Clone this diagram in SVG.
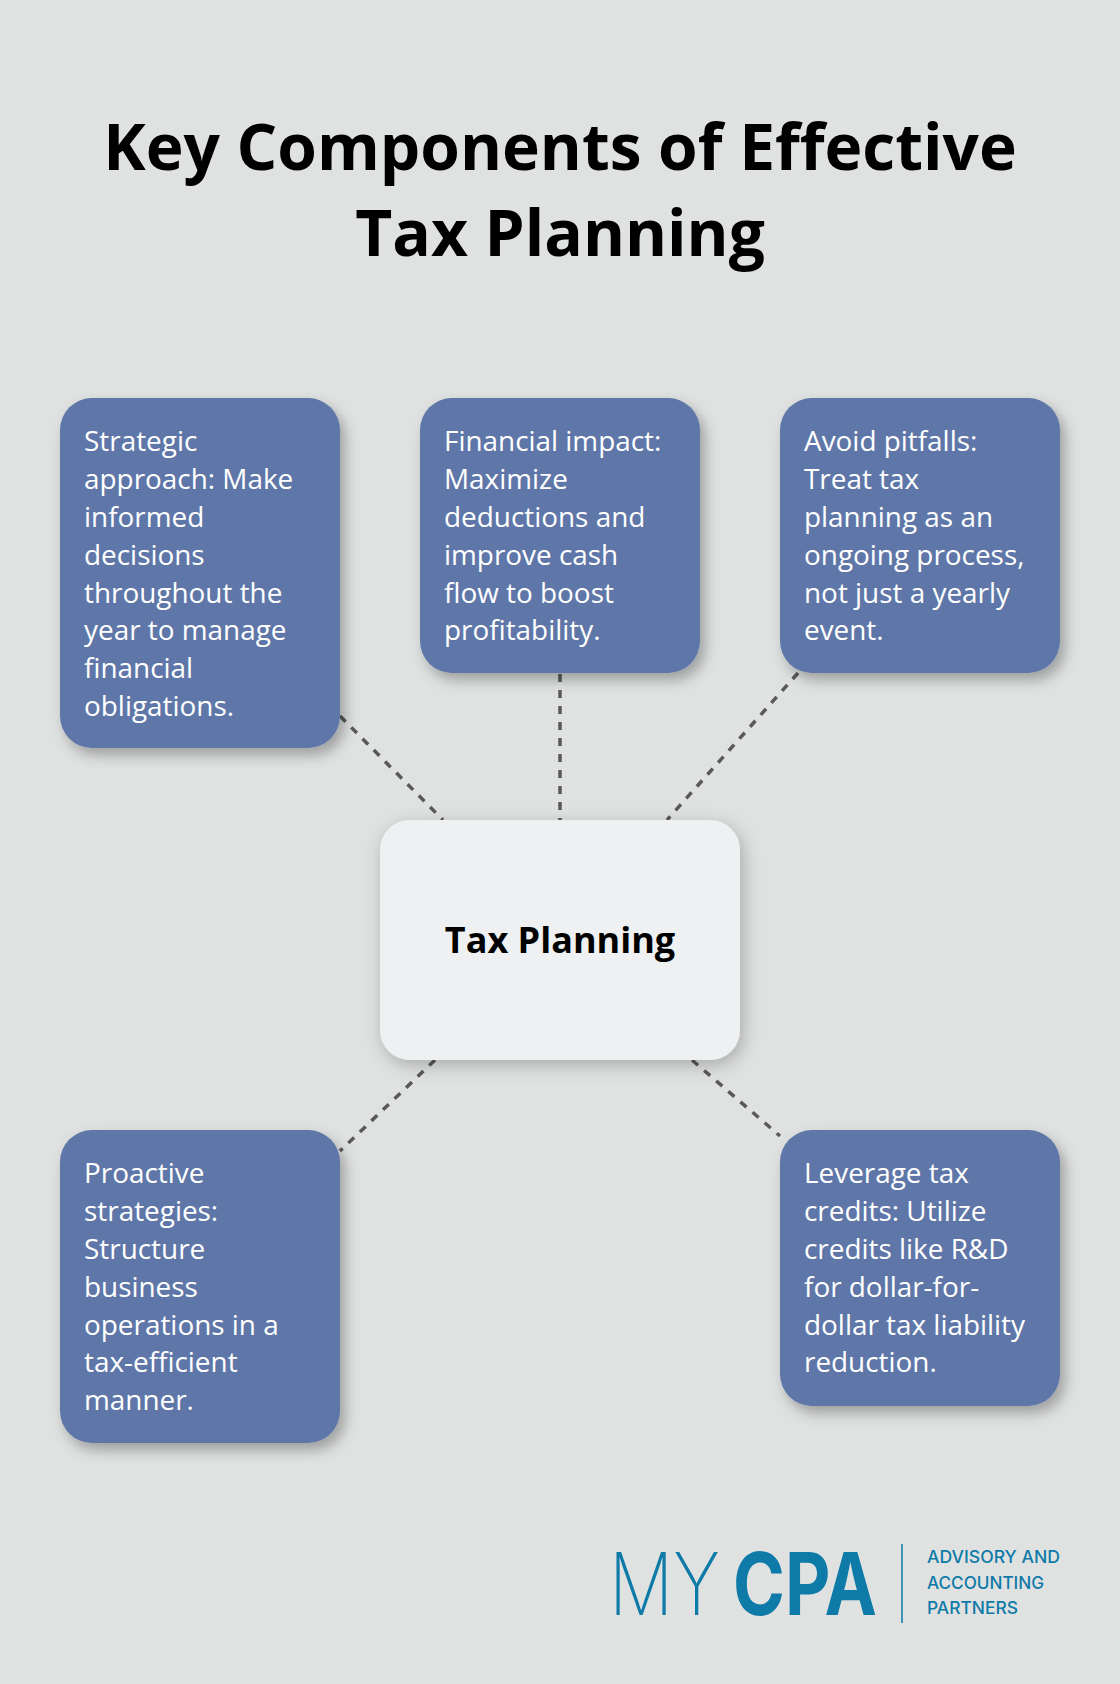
<svg xmlns="http://www.w3.org/2000/svg" width="1120" height="1684" viewBox="0 0 1120 1684">
<defs>
<filter id="sh" x="-20%" y="-20%" width="150%" height="150%">
<feDropShadow dx="5" dy="7" stdDeviation="7" flood-color="#000" flood-opacity="0.3"/>
</filter>
<filter id="shc" x="-20%" y="-20%" width="150%" height="150%">
<feDropShadow dx="3" dy="5" stdDeviation="9" flood-color="#000" flood-opacity="0.25"/>
</filter>
<style>
.box{fill:#5E77A8;filter:url(#sh);}
.t{font-family:"Open Sans","DejaVu Sans",sans-serif;font-size:27.9px;fill:#ffffff;}
.title{font-family:"Open Sans","DejaVu Sans",sans-serif;font-size:64px;font-weight:700;fill:#000;}
.conn{stroke:#595959;stroke-width:3.5;stroke-dasharray:8 8;fill:none;}
.logo{fill:#0E7AA8;}
</style>
</defs>
<rect width="1120" height="1684" fill="#E0E2E1"/>
<g id="title">
<text class="title" x="560" y="170" text-anchor="middle">Key Components of Effective</text>
<text class="title" x="560" y="256" text-anchor="middle">Tax Planning</text>
</g>
<g id="connectors">
<line class="conn" x1="340" y1="716" x2="443" y2="820"/>
<line class="conn" x1="560" y1="674" x2="560" y2="820"/>
<line class="conn" x1="798" y1="673" x2="667" y2="820"/>
<line class="conn" x1="435" y1="1060" x2="340" y2="1151"/>
<line class="conn" x1="692" y1="1060" x2="780" y2="1136"/>
</g>
<g id="node-center">
<rect x="380" y="820" width="360" height="240" rx="30" fill="#EFF0F2" filter="url(#shc)"/>
<text x="560" y="953" text-anchor="middle" font-family="'Open Sans','DejaVu Sans',sans-serif" font-size="36" font-weight="700" fill="#000">Tax Planning</text>
</g>
<g id="node-strategic">
<rect class="box" x="60" y="398" width="280" height="350" rx="32"/>
<text class="t" x="84" y="451.4">Strategic</text>
<text class="t" x="84" y="489.2">approach: Make</text>
<text class="t" x="84" y="527">informed</text>
<text class="t" x="84" y="564.8">decisions</text>
<text class="t" x="84" y="602.6">throughout the</text>
<text class="t" x="84" y="640.4">year to manage</text>
<text class="t" x="84" y="678.2">financial</text>
<text class="t" x="84" y="716">obligations.</text>
</g>
<g id="node-financial">
<rect class="box" x="420" y="398" width="280" height="275" rx="32"/>
<text class="t" x="444" y="451.4">Financial impact:</text>
<text class="t" x="444" y="489.2">Maximize</text>
<text class="t" x="444" y="527">deductions and</text>
<text class="t" x="444" y="564.8">improve cash</text>
<text class="t" x="444" y="602.6">flow to boost</text>
<text class="t" x="444" y="640.4">profitability.</text>
</g>
<g id="node-pitfalls">
<rect class="box" x="780" y="398" width="280" height="275" rx="32"/>
<text class="t" x="804" y="451.4">Avoid pitfalls:</text>
<text class="t" x="804" y="489.2">Treat tax</text>
<text class="t" x="804" y="527">planning as an</text>
<text class="t" x="804" y="564.8">ongoing process,</text>
<text class="t" x="804" y="602.6">not just a yearly</text>
<text class="t" x="804" y="640.4">event.</text>
</g>
<g id="node-proactive">
<rect class="box" x="60" y="1130" width="280" height="313" rx="32"/>
<text class="t" x="84" y="1183.4">Proactive</text>
<text class="t" x="84" y="1221.2">strategies:</text>
<text class="t" x="84" y="1259">Structure</text>
<text class="t" x="84" y="1296.8">business</text>
<text class="t" x="84" y="1334.6">operations in a</text>
<text class="t" x="84" y="1372.4">tax-efficient</text>
<text class="t" x="84" y="1410.2">manner.</text>
</g>
<g id="node-credits">
<rect class="box" x="780" y="1130" width="280" height="276" rx="32"/>
<text class="t" x="804" y="1183.4">Leverage tax</text>
<text class="t" x="804" y="1221.2">credits: Utilize</text>
<text class="t" x="804" y="1259">credits like R&amp;D</text>
<text class="t" x="804" y="1296.8">for dollar-for-</text>
<text class="t" x="804" y="1334.6">dollar tax liability</text>
<text class="t" x="804" y="1372.4">reduction.</text>
</g>
<g id="logo">
<text class="logo" x="609" y="1615" font-family="Inter,'Open Sans',sans-serif" font-size="87" font-weight="200" textLength="111" lengthAdjust="spacingAndGlyphs">MY</text>
<text class="logo" x="733" y="1615" font-family="Inter,'Open Sans',sans-serif" font-size="87" font-weight="700" textLength="144" lengthAdjust="spacingAndGlyphs">CPA</text>
<line x1="902" y1="1544" x2="902" y2="1623" stroke="#0E7AA8" stroke-width="1.5"/>
<text class="logo" x="927" y="1563" font-family="Inter,'Open Sans',sans-serif" font-size="17" font-weight="500" textLength="133" lengthAdjust="spacingAndGlyphs">ADVISORY AND</text>
<text class="logo" x="927" y="1589" font-family="Inter,'Open Sans',sans-serif" font-size="17" font-weight="500" textLength="117" lengthAdjust="spacingAndGlyphs">ACCOUNTING</text>
<text class="logo" x="927" y="1614" font-family="Inter,'Open Sans',sans-serif" font-size="17" font-weight="500" textLength="91" lengthAdjust="spacingAndGlyphs">PARTNERS</text>
</g>
</svg>
